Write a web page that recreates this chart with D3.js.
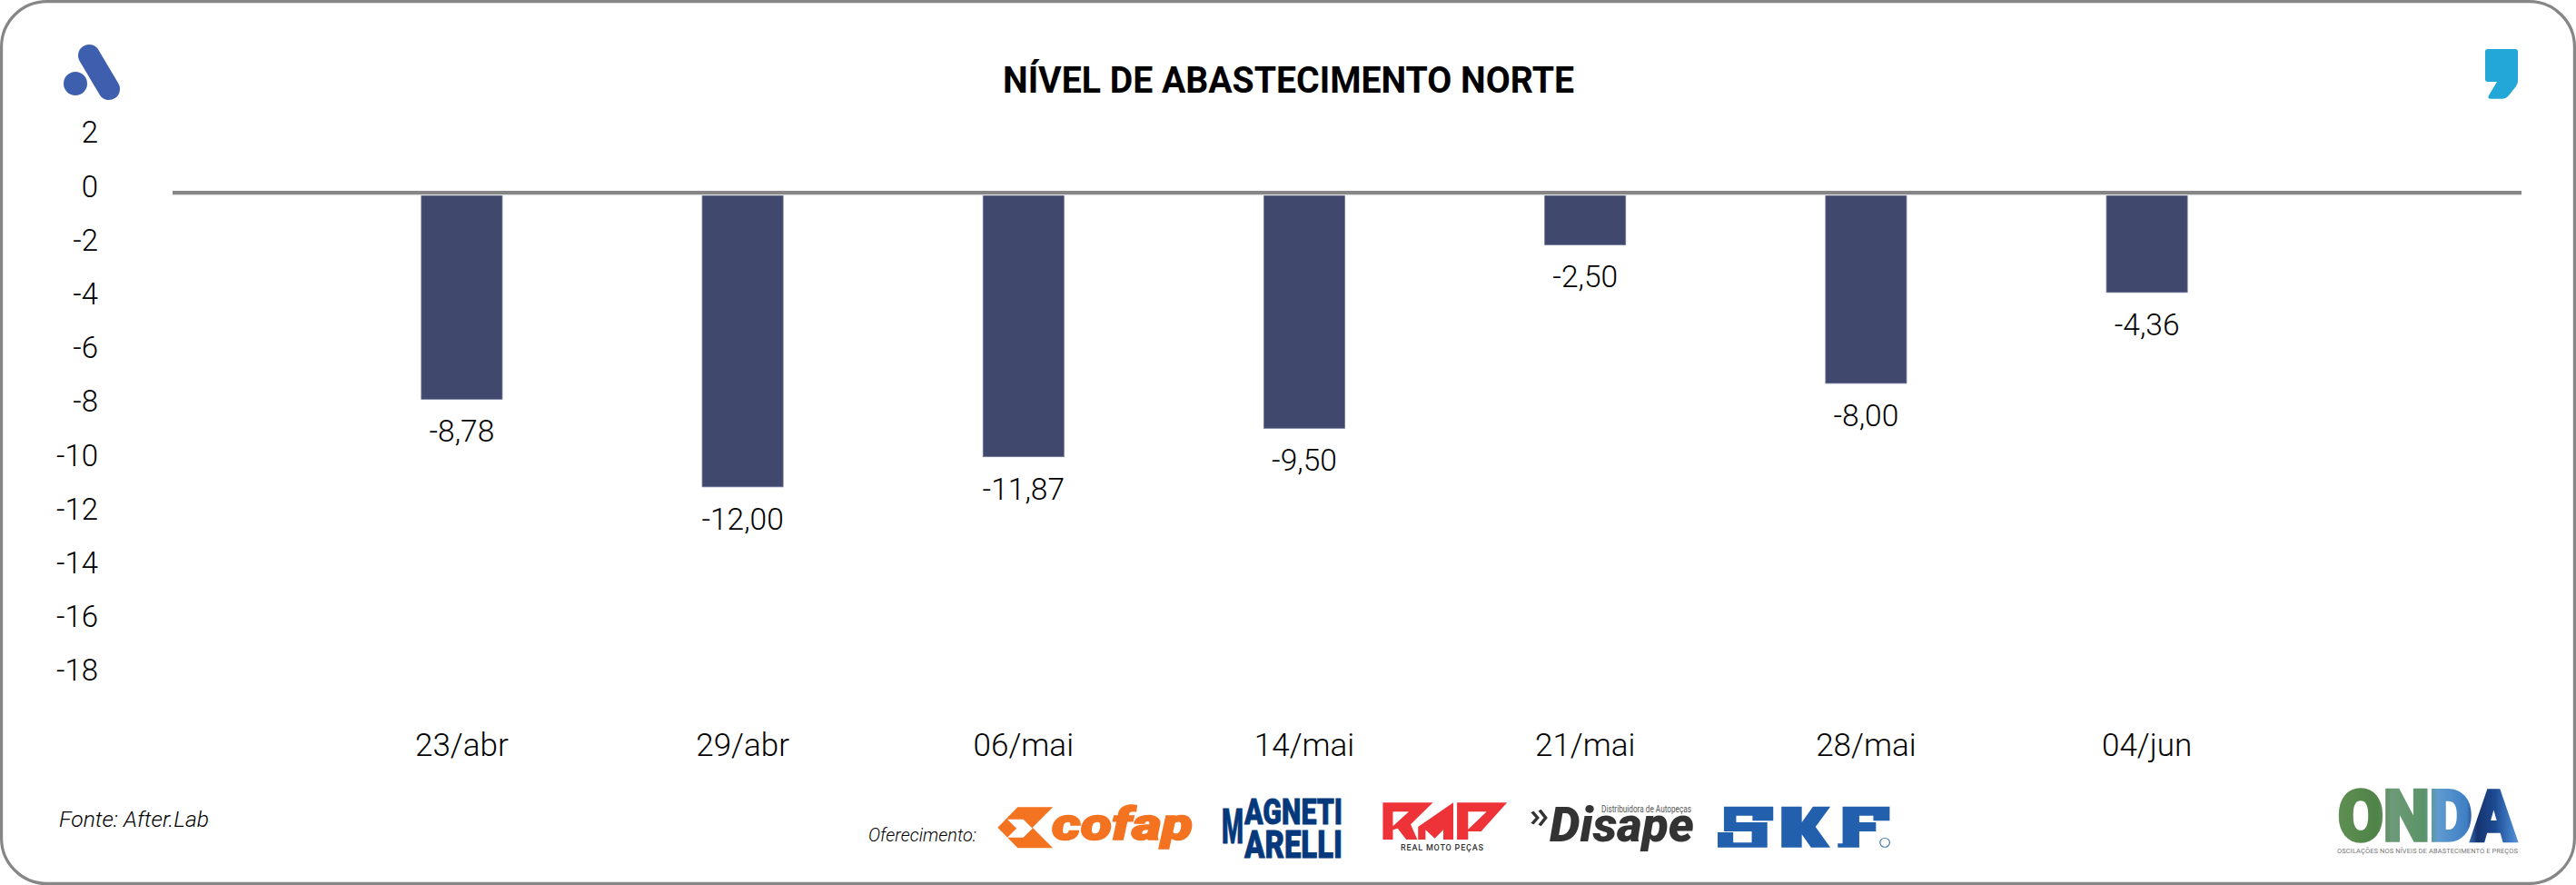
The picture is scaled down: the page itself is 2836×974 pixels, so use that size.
<!DOCTYPE html>
<html lang="pt-BR">
<head>
<meta charset="utf-8">
<title>Nível de abastecimento Norte</title>
<script src="https://cdn.jsdelivr.net/npm/d3@7/dist/d3.min.js"></script>
<style>
html,body{margin:0;padding:0;background:#fff;}
svg{display:block;}
text{font-family:Roboto,"Noto Sans",sans-serif;fill:#000;}
</style>
</head>
<body>
<svg id="chart" width="2836" height="974"></svg>
<script>
// ---- data ----
const titleText = "NÍVEL DE ABASTECIMENTO NORTE";
const categories = ["23/abr","29/abr","06/mai","14/mai","21/mai","28/mai","04/jun"];
// bar lengths as drawn, read against the axis (the printed labels differ from the drawn lengths in the source)
const barValues = [-7.68,-10.94,-9.82,-8.76,-1.94,-7.09,-3.71];
const barLabels = ["-8,78","-12,00","-11,87","-9,50","-2,50","-8,00","-4,36"];
const yTicks = [2,0,-2,-4,-6,-8,-10,-12,-14,-16,-18];

const W = 2836, H = 974;
const svg = d3.select("#chart");

const x = d3.scaleBand().domain(categories).range([353.8,2518.2]).paddingInner(0.712).paddingOuter(0.356);
const y = d3.scaleLinear().domain([2,-18]).range([152.8,744.8]);
const cx = d => x(d) + x.bandwidth()/2;
const rows = categories.map((c,i)=>({c,v:barValues[i],l:barLabels[i]}));

// frame
svg.append("rect").attr("x",1.6).attr("y",1.6).attr("width",W-3.2).attr("height",H-3.2)
  .attr("rx",50).attr("ry",50).attr("fill","#fff").attr("stroke","#868686").attr("stroke-width",3.2);

// title
svg.append("text").text(titleText).attr("x",1104).attr("y",102)
  .attr("font-size",41).attr("font-weight",700).attr("textLength",629).attr("lengthAdjust","spacingAndGlyphs");

// bars
svg.append("g").selectAll("rect").data(rows).join("rect")
  .attr("x",d=>x(d.c)).attr("width",x.bandwidth())
  .attr("y",y(0)).attr("height",d=>y(d.v)-y(0))
  .attr("fill","#40496d").attr("stroke","#6d7597").attr("stroke-width",0.8);

// zero line
svg.append("line").attr("x1",190).attr("x2",2776).attr("y1",y(0)+2.6).attr("y2",y(0)+2.6).attr("stroke","#e2e2e2").attr("stroke-width",1.4);
svg.append("line").attr("x1",190).attr("x2",2776).attr("y1",y(0)).attr("y2",y(0)).attr("stroke","#868686").attr("stroke-width",4);

// value labels
svg.append("g").selectAll("text").data(rows).join("text")
  .attr("x",d=>cx(d.c)).attr("y",d=>y(d.v)+47).attr("text-anchor","middle")
  .attr("font-size",33.5).attr("font-weight",300).text(d=>d.l);

// y axis
const yAxis = svg.append("g").attr("transform","translate(108,0)")
  .call(d3.axisLeft(y).tickValues(yTicks).tickSize(0).tickPadding(0).tickFormat(d=>String(d)));
yAxis.select(".domain").remove();
yAxis.selectAll("text").attr("font-size",33).attr("font-weight",300).attr("fill","#000").attr("font-family","Roboto").attr("dy","0.36em")
  .attr("transform","translate(0,-7.8)");

// x axis
const xAxis = svg.append("g").attr("transform","translate(0,807)")
  .call(d3.axisBottom(x).tickSize(0).tickPadding(0));
xAxis.select(".domain").remove();
xAxis.selectAll("text").attr("font-size",35).attr("font-weight",300).attr("fill","#000").attr("font-family","Roboto").attr("dy","0.71em");

// footnotes
svg.append("text").text("Fonte: After.Lab").attr("x",65).attr("y",910).attr("font-size",24).attr("font-weight",300)
  .attr("font-style","italic").attr("textLength",165).attr("lengthAdjust","spacingAndGlyphs");
svg.append("text").text("Oferecimento:").attr("x",956).attr("y",926).attr("font-size",21).attr("font-weight",300)
  .attr("font-style","italic").attr("textLength",119).attr("lengthAdjust","spacingAndGlyphs");

// ---- brand marks ----
// A logo
const aLogo = svg.append("g").attr("fill","#3d5fae");
aLogo.append("line").attr("x1",98).attr("y1",61).attr("x2",120).attr("y2",98).attr("stroke","#3d5fae").attr("stroke-width",24).attr("stroke-linecap","round");
aLogo.append("ellipse").attr("cx",83).attr("cy",92).attr("rx",13).attr("ry",13);

// comma logo
svg.append("path").attr("fill","#22a7d8")
  .attr("d","M2739,54 H2769 Q2772,54 2772,57 V89 Q2772,92 2770,95 L2762,105 Q2759,108.7 2755,108.7 H2742 Q2738,108.7 2740,105 L2749,90 H2739 Q2736,90 2736,87 V57 Q2736,54 2739,54 Z");

// cofap
const zoomA = svg.append("g").attr("transform","translate(900,850) scale(0.40816,0.33333)");
zoomA.append("path").attr("fill","#f47320").attr("fill-rule","evenodd")
  .attr("d","M540,115 H635 L580,182 L635,250 H540 L486,182 Z M512,155 H555 L580,185 L555,215 H512 L537,185 Z");
svg.append("text").text("cofap").attr("x",1158).attr("y",924).attr("font-size",50).attr("font-weight",900).attr("font-style","italic")
  .attr("textLength",155).attr("lengthAdjust","spacingAndGlyphs")
  .style("fill","#f47320").style("stroke","#f47320").style("stroke-width",1.6);

// Magneti Marelli
const mmColor = "#06397b";
const mmText = (s,xp,base,capH,len)=>svg.append("text").text(s).attr("x",xp).attr("y",base)
  .attr("font-size",capH/0.711).attr("font-weight",900).attr("textLength",len).attr("lengthAdjust","spacingAndGlyphs")
  .style("fill",mmColor).style("stroke",mmColor).style("stroke-width",0.8);
mmText("M",1345,928,38,24);
mmText("AGNETI",1370,907,28,108);
mmText("ARELLI",1370,944,30,108);

// RMP
const zoomB = svg.append("g").attr("transform","translate(1500,850) scale(0.40816,0.33333)");
zoomB.append("path").attr("fill","#ee3338").attr("fill-rule","evenodd")
  .attr("d","M55,100 H190 L130,172 L148,222 H118 L95,185 L82,190 V222 H55 Z M82,130 H125 L82,178 Z");
zoomB.append("path").attr("fill","#ee3338")
  .attr("d","M150,180 L245,100 V222 H218 V190 L195,218 L170,190 V222 H150 Z");
zoomB.append("path").attr("fill","#ee3338").attr("fill-rule","evenodd")
  .attr("d","M255,100 H390 L320,195 H285 V222 H255 Z M285,130 H335 L285,188 Z");
svg.append("text").text("REAL MOTO PEÇAS").attr("x",1542).attr("y",936).attr("font-size",9).attr("font-weight",500)
  .attr("textLength",91).style("fill","#333");

// Disape
zoomB.append("path").attr("fill","none").attr("stroke","#333").attr("stroke-width",9)
  .attr("d","M458,130 L472,150 L458,170 M478,125 L494,150 L478,175");
svg.append("text").text("Disape").attr("x",1706).attr("y",926).attr("font-size",54).attr("font-weight",900).attr("font-style","italic")
  .attr("textLength",159).attr("lengthAdjust","spacingAndGlyphs").style("fill","#333");
svg.append("text").text("Distribuidora de Autopeças").attr("x",1763).attr("y",893.5).attr("font-size",10.5)
  .attr("textLength",99).attr("lengthAdjust","spacingAndGlyphs").style("fill","#555");

// SKF
const skf = zoomB.append("g").attr("fill","#2260ae");
skf.append("path").attr("d","M975,113 H1108 V160 H1052 V143 H1008 V165 H1092 V248 H958 V198 H1000 V232 H1050 V195 H975 Z");
skf.append("path").attr("d","M1130,113 H1185 V165 L1215,113 H1262 L1222,180 L1262,248 H1210 L1185,205 V248 H1130 Z");
skf.append("path").attr("d","M1295,113 H1422 V160 H1378 V143 H1340 V165 H1385 V195 H1340 V248 H1282 V235 H1295 Z");
skf.append("ellipse").attr("cx",1409).attr("cy",232).attr("rx",13).attr("ry",15).attr("fill","none").attr("stroke","#2260ae").attr("stroke-width",2.5);

// ONDA
const defs = svg.append("defs");
const grad = defs.append("linearGradient").attr("id","ondaFill").attr("x1","0").attr("x2","1").attr("y1","0").attr("y2","0");
[["0","#5f8f52"],["0.22","#4f8348"],["0.3","#6d9a78"],["0.48","#5b9367"],["0.56","#5f9bd0"],["0.72","#3f7fc4"],["0.78","#16346f"],["0.88","#1c4a92"],["1","#4f8fd8"]]
  .forEach(s=>grad.append("stop").attr("offset",s[0]).attr("stop-color",s[1]));
svg.append("text").text("ONDA").attr("x",2574).attr("y",925).attr("font-size",77).attr("font-weight",900)
  .attr("textLength",196).attr("lengthAdjust","spacingAndGlyphs")
  .style("fill","url(#ondaFill)").style("stroke","url(#ondaFill)").style("stroke-width",3.5);
svg.append("text").text("OSCILAÇÕES NOS NÍVEIS DE ABASTECIMENTO E PREÇOS").attr("x",2573).attr("y",939).attr("font-size",7.5)
  .attr("textLength",199).style("fill","#777");
</script>
</body>
</html>
